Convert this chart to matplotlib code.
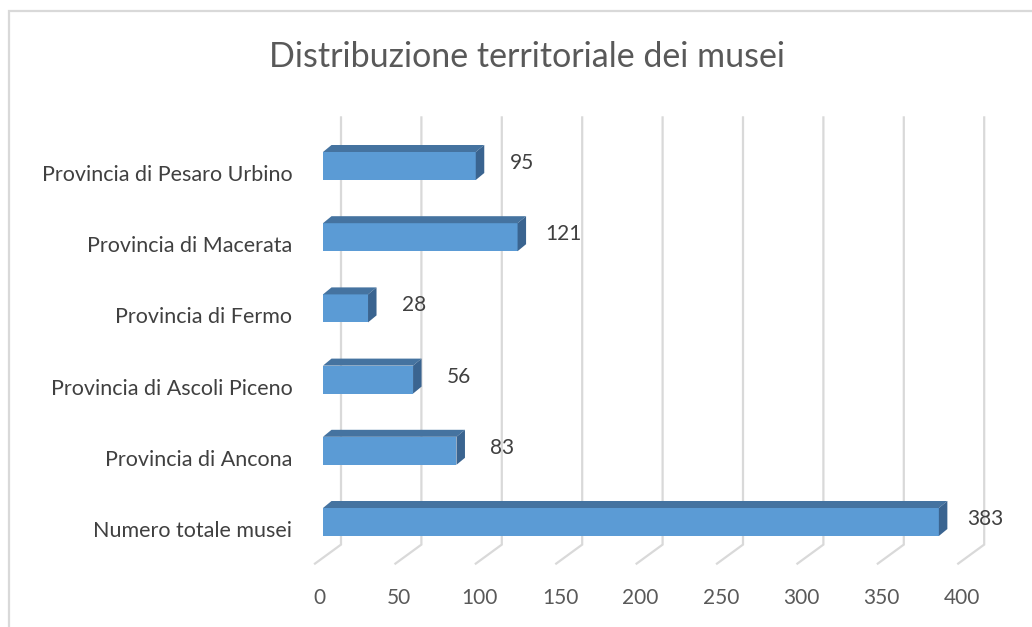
import numpy as np
import matplotlib.pyplot as plt
from matplotlib.patches import Polygon, Rectangle
from matplotlib.transforms import ScaledTranslation

plt.rcParams['font.family'] = ['Lato', 'DejaVu Sans']

categories = ["Numero totale musei", "Provincia di Ancona", "Provincia di Ascoli Piceno",
              "Provincia di Fermo", "Provincia di Macerata", "Provincia di Pesaro Urbino"]
values = [383, 83, 56, 28, 121, 95]
xticks = [0, 50, 100, 150, 200, 250, 300, 350, 400]
title = "Distribuzione territoriale dei musei"

W, H = 1032, 627
fig = plt.figure(figsize=(W / 100, H / 100), dpi=100)
fig.patch.set_facecolor('white')

# plot area = front face plane of the bars
px_unit = 1.608           # pixels per value unit
cat_px = 71.2             # pixels between categories
left_px, zero_bottom = 323, 557.6
ax = fig.add_axes([left_px / W, (H - zero_bottom) / H,
                   400 * px_unit / W, 6 * cat_px / H])
ax.set_xlim(0, 400)
ax.set_ylim(-0.5, 5.5)
for s in ax.spines.values():
    s.set_visible(False)
ax.set_facecolor('none')

# depth offsets (in data units)
dxb, dyb = 18 / px_unit, 13 / cat_px      # bar plane -> back wall
dxf, dyf = 8 / px_unit, 6 / cat_px        # bar plane -> front edge
bdx, bdy = 8.5 / px_unit, 7 / cat_px      # bar depth

grid_c = '#d9d9d9'
for v in xticks:
    ax.plot([v + dxb, v + dxb, v - dxf], [5.5 + dyb, -0.5 + dyb, -0.5 - dyf],
            color=grid_c, lw=1.6, clip_on=False, zorder=1, solid_joinstyle='miter')
    ax.text(v - 4 / px_unit, -0.5 - 40 / cat_px, str(v), ha='center', va='center',
            fontsize=15, color='#595959')

h = 28 / cat_px
y = np.arange(len(categories))
ax.barh(y, values, height=h, color='#5b9bd5', zorder=3)
for i, v in zip(y, values):
    top = [(0, i + h / 2), (v, i + h / 2), (v + bdx, i + h / 2 + bdy), (bdx, i + h / 2 + bdy)]
    side = [(v, i - h / 2), (v, i + h / 2), (v + bdx, i + h / 2 + bdy), (v + bdx, i - h / 2 + bdy)]
    ax.add_patch(Polygon(top, closed=True, facecolor='#4573a0', edgecolor='none', zorder=3, clip_on=False))
    ax.add_patch(Polygon(side, closed=True, facecolor='#3a6490', edgecolor='none', zorder=3, clip_on=False))
    ax.text(v + 46 / px_unit, i + 3 / cat_px, str(v), ha='center', va='center',
            fontsize=15, color='#404040')

ax.set_xticks([])
ax.set_yticks(y)
ax.set_yticklabels(categories, fontsize=15.5, color='#404040')
ax.tick_params(axis='y', length=0, pad=22)
shift = ScaledTranslation(0, -7 / 100, fig.dpi_scale_trans)
for lab in ax.get_yticklabels():
    lab.set_transform(lab.get_transform() + shift)

fig.text(527 / W, 1 - 57 / H, title, ha='center', va='center', fontsize=24.5,
         color='#595959')

fig.patches.append(Rectangle((9 / W, -0.1), 1.2, 1 - 11 / H + 0.1, transform=fig.transFigure,
                             fill=False, edgecolor='#d9d9d9', lw=1.6, figure=fig))

fig.savefig('out.png', dpi=100)
